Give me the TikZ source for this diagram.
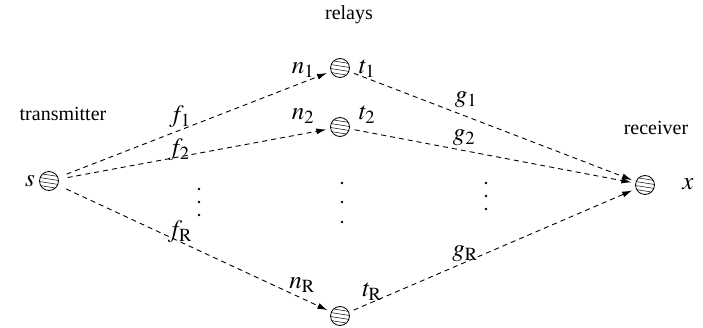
\documentclass[tikz,border=0pt]{standalone}
\usepackage{mathptmx}
\usepackage{fontspec}
\newfontfamily\timesfont{Liberation Serif}
\usetikzlibrary{arrows.meta}
\tikzset{
  hnode/.style={circle,draw,line width=0.8pt,minimum size=19pt,inner sep=0pt,
    path picture={
      \foreach \k in {-6,-2,2,6}{
        \draw[line width=0.5pt] ([yshift=\k pt+1.5pt]path picture bounding box.west) -- ([yshift=\k pt-1.5pt]path picture bounding box.east);
      }}},
  link/.style={line width=0.9pt,dash pattern=on 5pt off 4pt,
    -{Latex[length=10pt,width=6pt]},shorten >=4pt,shorten <=9pt},
  txt/.style={font=\timesfont\fontsize{20}{24}\selectfont,inner sep=0pt},
  lbl/.style={font=\fontsize{25}{29}\selectfont,inner sep=0pt},
  dotm/.style={circle,fill,inner sep=0pt,minimum size=2.6pt}
}
\begin{document}
\begin{tikzpicture}[x=1pt,y=-1pt]
\useasboundingbox (0,0) rectangle (703,328);
% nodes
\node[hnode] (s) at (49,181) {};
\node[hnode] (r1) at (340,68) {};
\node[hnode] (r2) at (340,127) {};
\node[hnode] (rR) at (340,316) {};
\node[hnode] (x) at (645,185) {};
% connectors
\draw[link] (s) -- (r1);
\draw[link] (s) -- (r2);
\draw[link] (s) -- (rR);
\draw[link,shorten <=5pt] (r1) -- (x);
\draw[link,shorten <=5pt] (r2) -- (x);
\draw[link,shorten <=5pt] (rR) -- (x);
% texts
\node[txt] (trelays) at (349,15) {relays};
\node[txt] (ttx) at (63,114) {transmitter};
\node[txt] (trx) at (656,128) {receiver};
\node[lbl] (ls) at (30,181) {$s$};
\node[lbl] (lx) at (688,184) {$x$};
\node[lbl] (f1) at (180,117) {$f_{\mathrm{1}}$};
\node[lbl] (f2) at (179,150) {$f_{\mathrm{2}}$};
\node[lbl] (fR) at (180,232) {$f_{\mathrm{R}}$};
\node[lbl] (n1) at (303,70) {$n_{\mathrm{1}}$};
\node[lbl] (n2) at (303,116) {$n_{\mathrm{2}}$};
\node[lbl] (nR) at (302,285) {$n_{\mathrm{R}}$};
\node[lbl] (t1) at (367,69) {$t_{\mathrm{1}}$};
\node[lbl] (t2) at (367,115) {$t_{\mathrm{2}}$};
\node[lbl] (tR) at (372,292) {$t_{\mathrm{R}}$};
\node[lbl] (g1) at (466,100) {$g_{\mathrm{1}}$};
\node[lbl] (g2) at (464,138) {$g_{\mathrm{2}}$};
\node[lbl] (gR) at (465,254) {$g_{\mathrm{R}}$};
% dots
\foreach \y [count=\i] in {189,202,215} \node[dotm] (da\i) at (199,\y) {};
\foreach \y [count=\i] in {183,202,222} \node[dotm] (db\i) at (342,\y) {};
\foreach \y [count=\i] in {183,196,209} \node[dotm] (dc\i) at (486,\y) {};
\end{tikzpicture}
\end{document}
